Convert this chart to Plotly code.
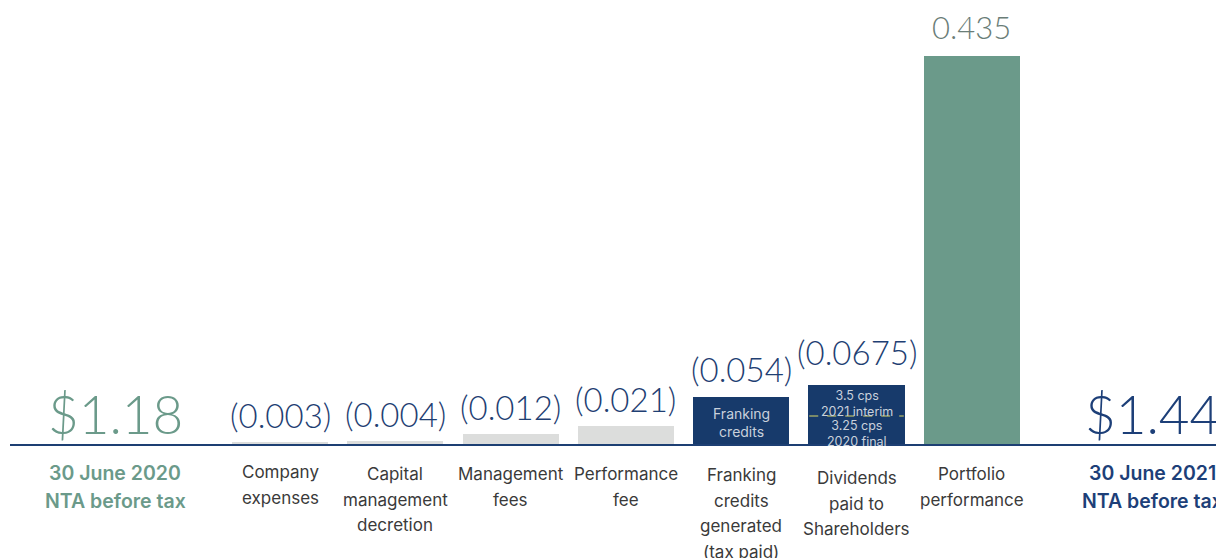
import plotly.graph_objects as go

# ---- data ----
categories = ["Company<br>expenses", "Capital<br>management<br>decretion", "Management<br>fees",
              "Performance<br>fee", "Franking<br>credits<br>generated<br>(tax paid)",
              "Dividends<br>paid to<br>Shareholders", "Portfolio<br>performance"]
values = [-0.003, -0.004, -0.012, -0.021, -0.054, -0.0675, 0.435]
value_labels = ["(0.003)", "(0.004)", "(0.012)", "(0.021)", "(0.054)", "(0.0675)", "0.435"]
dividend_final = 0.0325     # 3.25 cps 2020 final
dividend_interim = 0.035    # 3.5 cps 2021 interim
start_label = "$1.18"
start_caption = "30 June 2020<br>NTA before tax"
end_label = "$1.44"
end_caption = "30 June 2021<br>NTA before tax"

# ---- styles ----
GRAY = "#dcdddc"
NAVY = "#173a6b"
GREEN = "#6b9a8a"
bar_colors = [GRAY, GRAY, GRAY, GRAY, NAVY, NAVY, GREEN]
label_colors = ["#1f3f73"] * 6 + ["#6a7d77"]
FONT = "Inter"
NUMFONT = "Lato"

W, H = 1216, 550          # page has 8px body margin
BASE = 437                # baseline pixel (figure coords)
STEP = 115.3              # px per category
X1 = 272                  # pixel centre of first bar
PX_PER_UNIT = 894

x_pos = list(range(1, len(categories) + 1))
start_x, end_x = -0.43, 8.57

fig = go.Figure()
fig.add_trace(go.Bar(
    x=x_pos, y=[abs(v) for v in values], width=0.833,
    marker=dict(color=bar_colors, line=dict(width=0)),
    hoverinfo="skip", showlegend=False,
))

# baseline
fig.add_shape(type="line", xref="paper", yref="y", x0=2 / W, x1=1, y0=0, y1=0,
              line=dict(color="#1d3f73", width=2))

# dividends split line
fig.add_shape(type="line", xref="x", yref="y", x0=6 - 0.41, x1=6 + 0.41,
              y0=dividend_final, y1=dividend_final,
              line=dict(color="#9aa468", width=1.5, dash="dash"))

ann = []
gaps = [6, 6, 6, 6, 7, 12, 9]
for x, v, lab, col, g in zip(x_pos, values, value_labels, label_colors, gaps):
    ann.append(dict(x=x, y=abs(v), xref="x", yref="y", text=lab, showarrow=False,
                    yanchor="bottom", yshift=g, borderpad=0,
                    font=dict(family=NUMFONT, size=33 if v < 0 else 31, color=col, weight=300)))

# category labels: line by line
first_line_offsets = [27, 29, 29, 29, 30, 33, 29]
for x, cat, off in zip(x_pos, categories, first_line_offsets):
    for i, line in enumerate(cat.split("<br>")):
        ann.append(dict(x=x, y=0, xref="x", yref="y", text=line, showarrow=False,
                        yanchor="middle", yshift=-(off + 25.5 * i), borderpad=0,
                        font=dict(family=FONT, size=17, color="#3a3a3a")))

# start / end
ann.append(dict(x=start_x, y=0, xref="x", yref="y", text=start_label, showarrow=False,
                yanchor="bottom", yshift=-1, borderpad=0,
                font=dict(family=NUMFONT, size=53, color=GREEN, weight=300)))
ann.append(dict(x=end_x, y=0, xref="x", yref="y", text=end_label, showarrow=False,
                yanchor="bottom", yshift=-1, borderpad=0,
                font=dict(family=NUMFONT, size=53, color="#1d3f78", weight=300)))
for x, cap, col in [(start_x, start_caption, GREEN), (end_x, end_caption, "#1d3f78")]:
    for i, line in enumerate(cap.split("<br>")):
        ann.append(dict(x=x, y=0, xref="x", yref="y", text=line, showarrow=False,
                        yanchor="middle", yshift=-(28 + 28 * i), borderpad=0,
                        font=dict(family=FONT, size=19.5, color=col, weight=600)))

# inside-bar texts
INNER = "#c9d1dc"
ann.append(dict(x=5, y=0, xref="x", yref="y", text="Franking<br>credits", showarrow=False,
                yanchor="middle", yshift=22.5, borderpad=0,
                font=dict(family=FONT, size=14, color=INNER)))
ann.append(dict(x=6, y=0, xref="x", yref="y", text="3.5 cps<br>2021 interim", showarrow=False,
                yanchor="middle", yshift=41.5, borderpad=0,
                font=dict(family=FONT, size=12.5, color=INNER)))
ann.append(dict(x=6, y=0, xref="x", yref="y", text="3.25 cps<br>2020 final", showarrow=False,
                yanchor="middle", yshift=12, borderpad=0,
                font=dict(family=FONT, size=12.5, color=INNER)))

x_min = 1 - X1 / STEP
fig.update_layout(
    width=W, height=H, margin=dict(l=0, r=0, t=0, b=0),
    paper_bgcolor="white", plot_bgcolor="white",
    xaxis=dict(visible=False, range=[x_min, x_min + W / STEP]),
    yaxis=dict(visible=False, range=[-(H - BASE) / PX_PER_UNIT, BASE / PX_PER_UNIT]),
    annotations=ann, bargap=0,
)
fig.write_html("out.html")
